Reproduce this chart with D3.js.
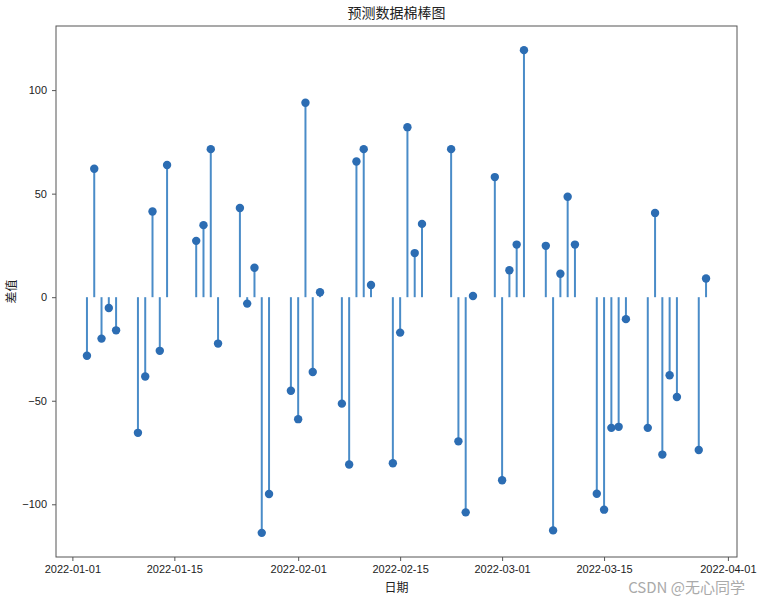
<!DOCTYPE html>
<html>
<head>
<meta charset="utf-8">
<script src="https://cdn.jsdelivr.net/npm/d3@7"></script>
<style>
    body { margin: 0; background: #fff; }
    svg { display: block; font-family: "Noto Sans CJK SC", "DejaVu Sans", sans-serif; }
    .chart__axis text { font-size: 11px; fill: #222; }
    .chart__axis path, .chart__axis line { stroke: #555; }
</style>
</head>
<body>
<div id="chart"></div>
<script>
// business days (US holidays skipped), 2022-01-03 .. 2022-03-29
const dates = [
    '2022-01-03','2022-01-04','2022-01-05','2022-01-06','2022-01-07',
    '2022-01-10','2022-01-11','2022-01-12','2022-01-13','2022-01-14',
    '2022-01-18','2022-01-19','2022-01-20','2022-01-21',
    '2022-01-24','2022-01-25','2022-01-26','2022-01-27','2022-01-28',
    '2022-01-31','2022-02-01','2022-02-02','2022-02-03','2022-02-04',
    '2022-02-07','2022-02-08','2022-02-09','2022-02-10','2022-02-11',
    '2022-02-14','2022-02-15','2022-02-16','2022-02-17','2022-02-18',
    '2022-02-22','2022-02-23','2022-02-24','2022-02-25',
    '2022-02-28','2022-03-01','2022-03-02','2022-03-03','2022-03-04',
    '2022-03-07','2022-03-08','2022-03-09','2022-03-10','2022-03-11',
    '2022-03-14','2022-03-15','2022-03-16','2022-03-17','2022-03-18',
    '2022-03-21','2022-03-22','2022-03-23','2022-03-24','2022-03-25',
    '2022-03-28','2022-03-29'
];

const diffValues = [
    -28.3, 62.0, -20.0, -5.2, -16.0,
    -65.5, -38.3, 41.4, -25.9, 63.8,
    27.2, 34.8, 71.5, -22.4,
    43.1, -3.1, 14.2, -113.8, -95.0,
    -45.2, -58.9, 93.9, -36.1, 2.4,
    -51.4, -80.8, 65.5, 71.5, 5.9,
    -80.2, -17.1, 82.1, 21.3, 35.4,
    71.5, -69.6, -103.9, 0.6,
    58.0, -88.4, 13.0, 25.4, 119.3,
    24.8, -112.6, 11.3, 48.5, 25.4,
    -94.9, -102.6, -63.1, -62.6, -10.6,
    -63.1, 40.7, -76.0, -37.7, -48.2,
    -73.8, 9.0
];

const xTickDates = ['2022-01-01','2022-01-15','2022-02-01','2022-02-15','2022-03-01','2022-03-15','2022-04-01'];
const yTickValues = [-100, -50, 0, 50, 100];

const titleText = '预测数据棉棒图';
const xLabelText = '日期';
const yLabelText = '差值';
const watermarkText = 'CSDN @无心同学';

const width = 762, height = 598;
const margins = { left: 56, right: 25, top: 26, bottom: 41 };
const boundWidth = width - margins.left - margins.right;
const boundHeight = height - margins.top - margins.bottom;

const parse = d3.utcParse('%Y-%m-%d');
const data = dates.map((d, i) => ({ date: parse(d), value: diffValues[i] }));

// matplotlib-like 5% margins
const xExt = d3.extent(data, d => +d.date);
const xPad = (xExt[1] - xExt[0]) * 0.05;
const xScale = d3.scaleUtc()
    .domain([new Date(xExt[0] - xPad), new Date(xExt[1] + xPad)])
    .range([0, boundWidth]);

const yExt = d3.extent(data, d => d.value);
const yPad = (yExt[1] - yExt[0]) * 0.05;
const yScale = d3.scaleLinear()
    .domain([yExt[0] - yPad, yExt[1] + yPad])
    .range([boundHeight, 0]);

const svg = d3.select('#chart').append('svg')
    .attr('width', width).attr('height', height);

const bound = svg.append('g')
    .attr('transform', `translate(${margins.left},${margins.top})`);

// axes
const fmt = d3.utcFormat('%Y-%m-%d');
bound.append('g')
    .classed('chart__axis', true)
    .attr('transform', `translate(0,${boundHeight})`)
    .call(d3.axisBottom(xScale).tickValues(xTickDates.map(parse)).tickFormat(fmt).tickSize(4).tickPadding(4))
    .call(g => g.select('.domain').remove());

bound.append('g')
    .classed('chart__axis', true)
    .call(d3.axisLeft(yScale).tickValues(yTickValues).tickFormat(d3.format('d')).tickSize(4).tickPadding(5))
    .call(g => g.select('.domain').remove())
    .call(g => g.selectAll('text').text(d => d < 0 ? '\u2212' + Math.abs(d) : d));

// stems
bound.selectAll('.chart__stem').data(data)
    .join('line')
    .classed('chart__stem', true)
    .attr('x1', d => xScale(d.date))
    .attr('x2', d => xScale(d.date))
    .attr('y1', yScale(0))
    .attr('y2', d => yScale(d.value))
    .attr('stroke', '#4a8cc8')
    .attr('stroke-width', 2);

// markers
bound.selectAll('.chart__marker').data(data)
    .join('circle')
    .classed('chart__marker', true)
    .attr('cx', d => xScale(d.date))
    .attr('cy', d => yScale(d.value))
    .attr('r', 4.2)
    .attr('fill', '#2c6db3');

// frame
bound.append('rect')
    .attr('width', boundWidth).attr('height', boundHeight)
    .attr('fill', 'none')
    .attr('stroke', '#555')
    .attr('stroke-width', 1);

// texts
svg.append('text')
    .attr('x', margins.left + boundWidth / 2).attr('y', 18)
    .attr('text-anchor', 'middle')
    .style('font-size', '14px').attr('fill', '#222')
    .text(titleText);

svg.append('text')
    .attr('x', margins.left + boundWidth / 2).attr('y', 592)
    .attr('text-anchor', 'middle')
    .style('font-size', '12px').attr('fill', '#222')
    .text(xLabelText);

svg.append('text')
    .attr('transform', `translate(16,${margins.top + boundHeight / 2}) rotate(-90)`)
    .attr('text-anchor', 'middle')
    .style('font-size', '12px').attr('fill', '#222')
    .text(yLabelText);

// watermark sits just under the date labels
svg.append('text')
    .attr('x', 745).attr('y', 593)
    .attr('text-anchor', 'end')
    .style('font-size', '15px').attr('fill', '#aaa')
    .text(watermarkText);
</script>
</body>
</html>
